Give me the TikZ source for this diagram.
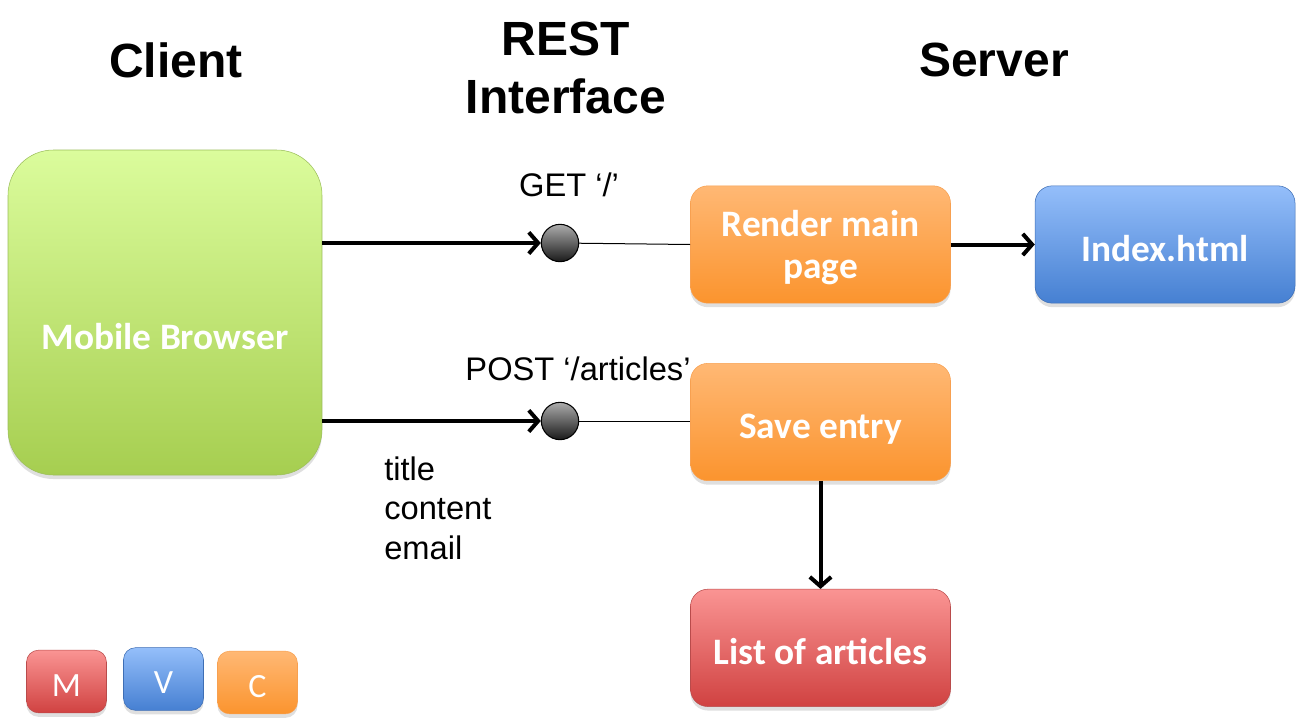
\documentclass[tikz,border=0pt]{standalone}
\usepackage{fontspec}
\setmainfont{Liberation Sans}
\newfontfamily\boxfont{Carlito}
\usetikzlibrary{positioning}
\usetikzlibrary{arrows.meta}
\usetikzlibrary{shadows}
\definecolor{ctrltop}{RGB}{255,184,116}
\definecolor{ctrlbot}{RGB}{251,148,46}
\definecolor{ctrlline}{RGB}{247,160,80}
\definecolor{viewtop}{RGB}{148,190,250}
\definecolor{viewbot}{RGB}{70,128,210}
\definecolor{viewline}{RGB}{62,110,180}
\definecolor{modeltop}{RGB}{250,148,147}
\definecolor{modelbot}{RGB}{208,66,65}
\definecolor{modelline}{RGB}{185,75,75}
\definecolor{clienttop}{RGB}{219,252,156}
\definecolor{clientbot}{RGB}{166,206,80}
\definecolor{clientline}{RGB}{155,190,90}
\tikzset{
	>={Straight Barb[length=7pt,width=16pt]},
	box/.style={
		rectangle, 
		rounded corners=13pt, 
		draw, thin,
		minimum width=195pt, 
		minimum height=88pt, 
		text=white,
		align=center,
		text height=25pt, text depth=0pt,
		font=\boxfont\bfseries\fontsize{28}{31.5}\selectfont,
		drop shadow={opacity=.25, shadow xshift=0pt, shadow yshift=-3pt}},
	ctrl/.style={box, top color=ctrltop, bottom color=ctrlbot, draw=ctrlline},
	view/.style={box, top color=viewtop, bottom color=viewbot, draw=viewline},
	model/.style={box, top color=modeltop, bottom color=modelbot, draw=modelline},
	legend/.style={
		minimum width=60pt, 
		minimum height=47pt, 
		rounded corners=9pt,
		text height=22pt,
		font=\boxfont\fontsize{25.5}{30}\selectfont},
	port/.style={
		circle, 
		minimum size=28pt, 
		inner sep=0pt,
		draw=black, thick,
		top color=gray!65, 
		bottom color=black!90},
	call/.style={draw, line width=3pt, ->},
	wire/.style={draw, line width=.75pt},
	heading/.style={font=\bfseries\fontsize{36}{43.5}\selectfont, align=center, inner sep=0pt},
	tag/.style={font=\fontsize{24.5}{29.6}\selectfont, inner sep=0pt},
}
\begin{document}
\begin{tikzpicture}
			[x=0.75pt, y=-0.75pt]
			\useasboundingbox (0,0) rectangle (1304,725);
			% column headings
			\node[heading] (client) at (176,60) {Client};
			\node[heading] (rest) at (566,68) {REST\\Interface};
			\node[heading] (server) at (994,60) {Server};
			
			\node[box, top color=clienttop, bottom color=clientbot, draw=clientline,
				minimum width=235.5pt, minimum height=243.75pt, rounded corners=34pt,
				text height=55pt] (browser) at (165,312.5) {Mobile Browser};
			\node[ctrl, text height=51.3pt] (render) at (820.5,244.5) {Render main\\page};
			\node[view, right=63pt of render] (index) {Index.html};
			\node[ctrl] (save) at (820.5,422) {Save entry};
			\node[model, below=81pt of save] (list) {List of articles};
			
			\node[port] (get) at (560,243) {};
			\node[port] (post) at (560,421) {};
			\node[tag] (getlabel) at (569,185) {GET ‘/’};
			\node[tag] (postlabel) at (578,369) {POST ‘/articles’};
			\node[tag, anchor=west, align=left] (params) at (384,508) {title\\content\\email};
			
			\draw[call] (browser.east |- get) -- (get);
			\draw[call] (browser.east |- post) -- (post);
			\draw[wire] (get) -- (render.west);
			\draw[wire] (post) -- (save.west |- post);
			\draw[call] (render) -- (index);
			\draw[call] (save) -- (list);
			
			% legend
			\node[model, legend] (m) at (66.5,681.5) {M};
			\node[view, legend] (v) at (163.5,679) {V};
			\node[ctrl, legend] (c) at (257.5,682.5) {C};
			
	 		\end{tikzpicture}
\end{document}
